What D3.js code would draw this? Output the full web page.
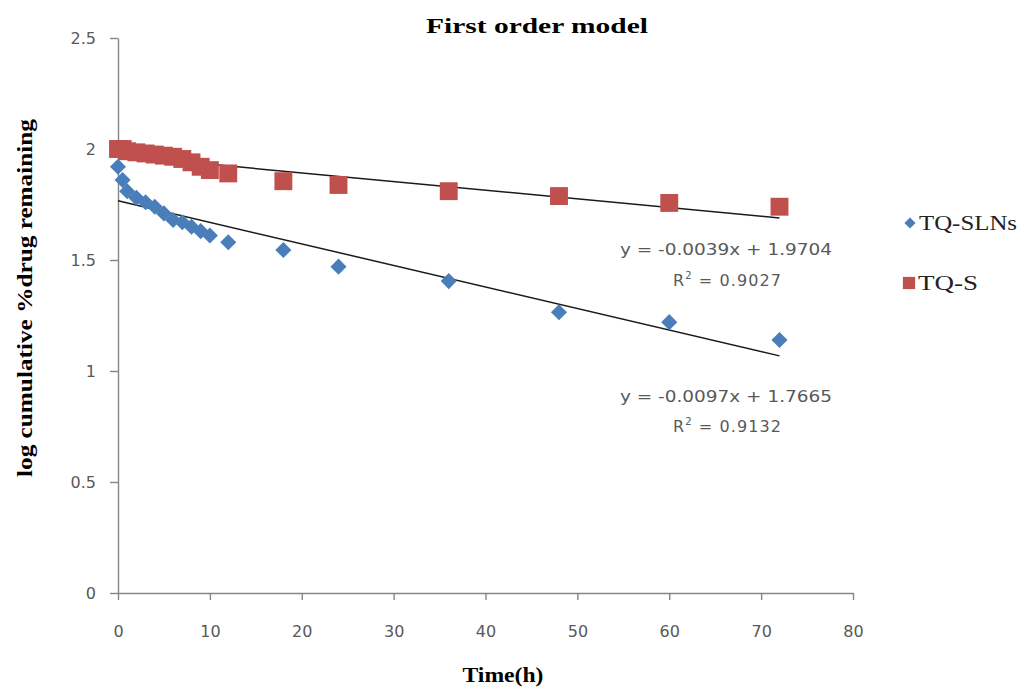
<!DOCTYPE html>
<html><head><meta charset="utf-8">
<script src="https://cdn.jsdelivr.net/npm/d3@7"></script>
<style>body{margin:0;background:#fff}</style>
</head><body><svg id="c" width="1025" height="689"></svg>
<script>
const times = [0, 0.5, 1, 2, 3, 4, 5, 6, 7, 8, 9, 10, 12, 18, 24, 36, 48, 60, 72];
const slnValues = [1.92, 1.86, 1.81, 1.78, 1.76, 1.74, 1.71, 1.68, 1.67, 1.65, 1.63, 1.61, 1.58, 1.545, 1.47, 1.405, 1.265, 1.22, 1.14];
const sValues = [2.00, 2.00, 1.99, 1.985, 1.98, 1.975, 1.97, 1.965, 1.955, 1.94, 1.92, 1.905, 1.89, 1.855, 1.838, 1.81, 1.788, 1.757, 1.74];
const seriesNames = ["TQ-SLNs", "TQ-S"];
const fits = [{slope: -0.0097, intercept: 1.7665, r2: "0.9132"}, {slope: -0.0039, intercept: 1.9704, r2: "0.9027"}];
const xTicks = [0, 10, 20, 30, 40, 50, 60, 70, 80];
const yTicks = [0, 0.5, 1, 1.5, 2, 2.5];

const svg = d3.select("#c");
const x = d3.scaleLinear().domain([0, 80]).range([118, 853]);
const y = d3.scaleLinear().domain([0, 2.5]).range([593, 38]);
const axisColor = "#868686";
const labelColor = "#595959";
const sans = "DejaVu Sans, Verdana, sans-serif";
const serif = "Liberation Serif, Times New Roman, serif";

// axes
const xAxis = svg.append("g").attr("transform", "translate(0,593)")
  .call(d3.axisBottom(x).tickValues(xTicks).tickSize(7).tickSizeOuter(0).tickFormat(d3.format("d")));
const yAxis = svg.append("g").attr("transform", "translate(118,0)")
  .call(d3.axisLeft(y).tickValues(yTicks).tickSize(8).tickSizeOuter(0).tickFormat(d => d));
[xAxis, yAxis].forEach(a => {
  a.select(".domain").attr("stroke", axisColor).attr("stroke-width", 1.4);
  a.selectAll(".tick line").attr("stroke", axisColor).attr("stroke-width", 1.4);
  a.selectAll(".tick text").attr("fill", labelColor).style("font-family", sans).style("font-size", "16px");
});
xAxis.selectAll(".tick text").attr("y", 38).attr("dy", "0.35em");
yAxis.selectAll(".tick text").attr("x", -22).attr("dy", "0.35em");

// trend lines
fits.forEach(f => {
  svg.append("line")
    .attr("x1", x(0)).attr("y1", y(f.intercept))
    .attr("x2", x(72)).attr("y2", y(f.intercept + f.slope * 72))
    .attr("stroke", "#1a1a1a").attr("stroke-width", 1.5);
});

// markers
const blue = "#4a7ebb", red = "#c0504d";
const diamond = d3.symbol().type(d3.symbolDiamond2).size(165);
const square = d3.symbol().type(d3.symbolSquare).size(320);
svg.append("g").selectAll("path").data(sValues).join("path")
  .attr("d", square).attr("fill", red)
  .attr("transform", (d, i) => `translate(${x(times[i])},${y(d)})`);
svg.append("g").selectAll("path").data(slnValues).join("path")
  .attr("d", diamond).attr("fill", blue)
  .attr("transform", (d, i) => `translate(${x(times[i])},${y(d)})`);

// equations
function eq(f, base1, base2) {
  const g = svg.append("g").attr("fill", labelColor).style("font-family", sans).style("font-size", "16px").attr("text-anchor", "middle");
  g.append("text").attr("x", 726).attr("y", base1)
    .attr("textLength", 212).attr("lengthAdjust", "spacingAndGlyphs")
    .text(`y = ${f.slope.toFixed(4)}x + ${f.intercept.toFixed(4)}`);
  const t = g.append("text").attr("x", 727).attr("y", base2)
    .attr("textLength", 108).attr("lengthAdjust", "spacing");
  t.append("tspan").text("R");
  t.append("tspan").attr("dy", -7).style("font-size", "10px").text("2");
  t.append("tspan").attr("dy", 7).text(" = " + f.r2);
}
eq(fits[1], 255, 286);
eq(fits[0], 402, 432);

// title
svg.append("text").attr("x", 537).attr("y", 33).attr("text-anchor", "middle")
  .attr("textLength", 222).attr("lengthAdjust", "spacingAndGlyphs")
  .style("font-family", serif).style("font-weight", "bold").style("font-size", "22px")
  .text("First order model");
// axis titles
svg.append("text").attr("x", 503).attr("y", 682).attr("text-anchor", "middle")
  .attr("textLength", 81).attr("lengthAdjust", "spacingAndGlyphs")
  .style("font-family", serif).style("font-weight", "bold").style("font-size", "21px")
  .text("Time(h)");
svg.append("text").attr("transform", "translate(32,298) rotate(-90)").attr("text-anchor", "middle")
  .attr("textLength", 358).attr("lengthAdjust", "spacingAndGlyphs")
  .style("font-family", serif).style("font-weight", "bold").style("font-size", "21px")
  .text("log cumulative %drug remaining");

// legend
const leg = svg.append("g").style("font-family", serif).style("font-size", "20px").attr("fill", "#222");
leg.append("path").attr("d", d3.symbol().type(d3.symbolDiamond2).size(80)).attr("fill", blue).attr("transform", "translate(910,223)");
leg.append("text").attr("x", 919).attr("y", 230).attr("textLength", 98).attr("lengthAdjust", "spacingAndGlyphs").text(seriesNames[0]);
leg.append("path").attr("d", d3.symbol().type(d3.symbolSquare).size(150)).attr("fill", red).attr("transform", "translate(909,283)");
leg.append("text").attr("x", 918).attr("y", 290).attr("textLength", 60).attr("lengthAdjust", "spacingAndGlyphs").text(seriesNames[1]);
</script></body></html>
